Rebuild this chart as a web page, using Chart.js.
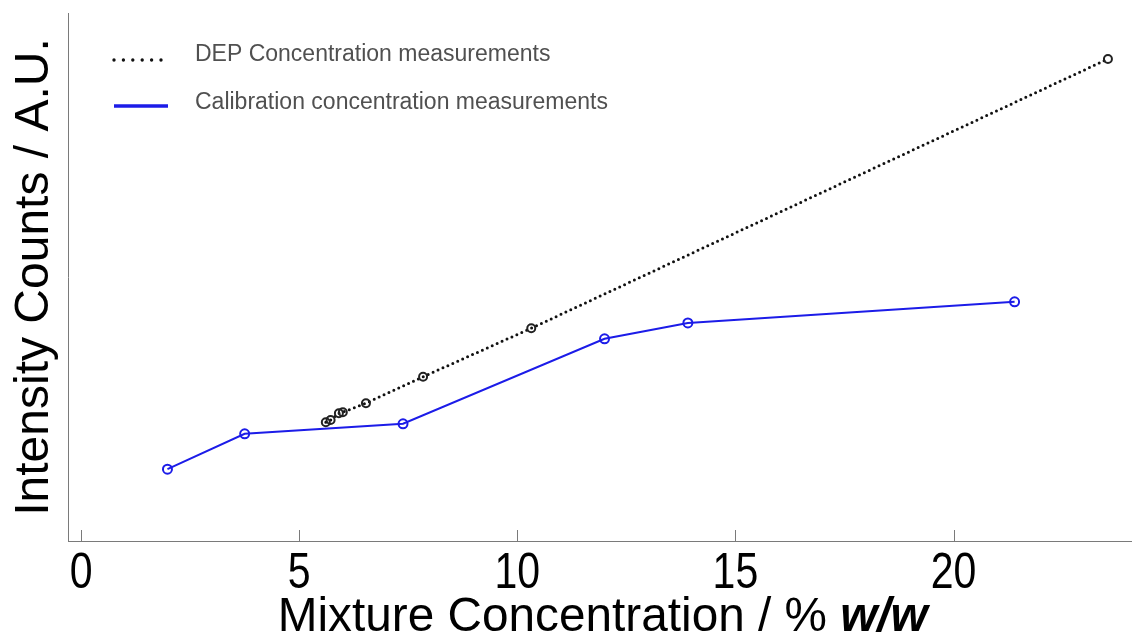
<!DOCTYPE html>
<html>
<head>
<meta charset="utf-8">
<script src="https://cdn.jsdelivr.net/npm/chart.js@4/dist/chart.umd.min.js"></script>
<style>
  html, body { margin: 0; padding: 0; background: #fff; }
  #wrap { width: 1138px; height: 634px; position: relative; }
</style>
</head>
<body>
<div id="wrap"><canvas id="c" width="1138" height="634"></canvas></div>
<script>
// ---- data ----
const depX = [5.61, 5.72, 5.91, 6.0, 6.53, 7.84, 10.32, 23.54];
const depY = [22.5, 22.9, 24.2, 24.4, 26.1, 31.1, 40.3, 91.3];
const calX = [1.98, 3.75, 7.38, 12.0, 13.91, 21.4];
const calY = [13.6, 20.3, 22.2, 38.3, 41.3, 45.3];
const seriesLabels = ['DEP Concentration measurements', 'Calibration concentration measurements'];
const xTickValues = [0, 5, 10, 15, 20];
const xTitleMain = 'Mixture Concentration / % ';
const xTitleItalic = 'w/w';
const yTitle = 'Intensity Counts / A.U.';

const SANS = "'Liberation Sans', Arial, sans-serif";
const BLUE = 'rgb(28,28,232)';

const toPts = (xs, ys) => xs.map((x, i) => ({ x: x, y: ys[i] }));

// Legend inside plot area (top-left), drawn from dataset styles
const legendPlugin = {
  id: 'insideLegend',
  afterDraw(chart) {
    const ctx = chart.ctx;
    const ca = chart.chartArea;
    const lineY = [60, 106];
    const textY = [55, 103];
    chart.data.datasets.forEach((ds, i) => {
      const x0 = ca.left + 46, x1 = ca.left + 100;
      ctx.save();
      ctx.strokeStyle = ds.borderColor;
      ctx.lineWidth = 3.4;
      if (ds.borderDash && ds.borderDash.length) {
        ctx.lineCap = 'round';
        ctx.setLineDash([0, 9.4]);
      } else {
        ctx.lineCap = 'butt';
        ctx.setLineDash([]);
      }
      ctx.beginPath();
      ctx.moveTo(x0, lineY[i]);
      ctx.lineTo(x1, lineY[i]);
      ctx.stroke();
      ctx.setLineDash([]);
      ctx.fillStyle = '#505050';
      ctx.font = '23px ' + SANS;
      ctx.textBaseline = 'middle';
      ctx.textAlign = 'left';
      ctx.fillText(ds.label, ca.left + 127, textY[i]);
      ctx.restore();
    });
  }
};

// Inward tick marks, narrow tick labels and mixed-style x title
const axisDecor = {
  id: 'axisDecor',
  afterDraw(chart) {
    const ctx = chart.ctx;
    const xs = chart.scales.x;
    const ca = chart.chartArea;
    ctx.save();
    ctx.strokeStyle = '#7a7a7a';
    ctx.lineWidth = 1;
    xs.ticks.forEach(t => {
      const px = Math.round(xs.getPixelForValue(t.value)) + 0.5;
      ctx.beginPath();
      ctx.moveTo(px, ca.bottom);
      ctx.lineTo(px, ca.bottom - 11);
      ctx.stroke();
    });
    // tick labels (narrow look: horizontally condensed Liberation Sans)
    const sx = 0.82;
    ctx.fillStyle = '#000';
    ctx.font = '50px ' + SANS;
    ctx.textBaseline = 'alphabetic';
    ctx.textAlign = 'center';
    xs.ticks.forEach(t => {
      const px = xs.getPixelForValue(t.value);
      ctx.save();
      ctx.translate(px, 588);
      ctx.scale(sx, 1);
      ctx.fillText(String(t.value), 0, 0);
      ctx.restore();
    });
    // x title
    const fMain = '48px ' + SANS;
    const fIt = 'italic bold 48px ' + SANS;
    ctx.font = fMain;
    const w1 = ctx.measureText(xTitleMain).width;
    ctx.font = fIt;
    const w2 = ctx.measureText(xTitleItalic).width;
    const targetW = 650;
    const k = targetW / (w1 + w2);
    const cx = (ca.left + ca.right) / 2 + 3;
    ctx.save();
    ctx.translate(cx - targetW / 2, 631);
    ctx.scale(k, 1);
    ctx.textAlign = 'left';
    ctx.font = fMain;
    ctx.fillText(xTitleMain, 0, 0);
    ctx.font = fIt;
    ctx.fillText(xTitleItalic, w1, 0);
    ctx.restore();
    ctx.restore();
  }
};

new Chart(document.getElementById('c'), {
  type: 'line',
  data: {
    datasets: [
      {
        label: seriesLabels[0],
        data: toPts(depX, depY),
        borderColor: '#111',
        borderWidth: 3,
        borderDash: [0, 5.4],
        borderCapStyle: 'round',
        pointRadius: 4,
        pointBorderWidth: 2,
        pointBorderColor: '#222',
        pointBackgroundColor: 'rgba(0,0,0,0)',
        fill: false,
        tension: 0
      },
      {
        label: seriesLabels[1],
        data: toPts(calX, calY),
        borderColor: BLUE,
        borderWidth: 2,
        pointRadius: 4.5,
        pointBorderWidth: 2,
        pointBorderColor: BLUE,
        pointBackgroundColor: 'rgba(0,0,0,0)',
        fill: false,
        tension: 0
      }
    ]
  },
  options: {
    responsive: false,
    animation: false,
    devicePixelRatio: 1,
    layout: { padding: { top: 13, right: 0, bottom: 0, left: 0 } },
    plugins: {
      legend: { display: false },
      tooltip: { enabled: false }
    },
    scales: {
      x: {
        type: 'linear',
        min: -0.3,
        max: 24.08,
        afterFit(scale) { scale.height = 93; },
        afterBuildTicks(scale) { scale.ticks = xTickValues.map(v => ({ value: v })); },
        grid: { display: false, drawTicks: false },
        border: { display: true, color: '#7a7a7a', width: 1 },
        ticks: { display: false, includeBounds: false }
      },
      y: {
        type: 'linear',
        min: 0,
        max: 100,
        afterFit(scale) { scale.width = 68; },
        grid: { display: false, drawTicks: false },
        border: { display: true, color: '#7a7a7a', width: 1 },
        ticks: { display: false },
        title: {
          display: true,
          text: yTitle,
          color: '#000',
          font: { family: SANS, size: 48 },
          padding: { top: 6, bottom: 0 }
        }
      }
    }
  },
  plugins: [legendPlugin, axisDecor]
});
</script>
</body>
</html>
